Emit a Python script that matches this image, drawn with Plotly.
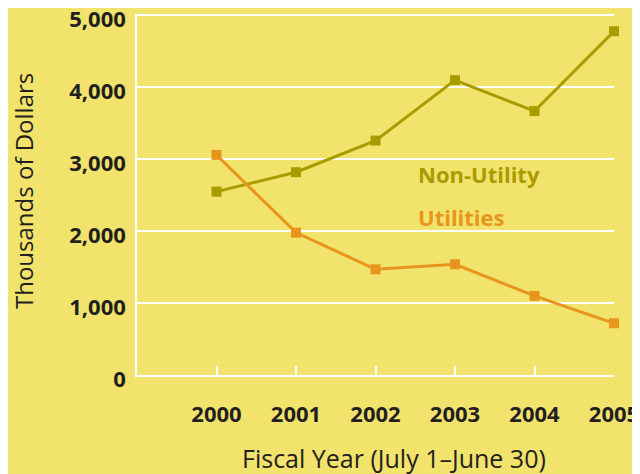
import plotly.graph_objects as go

years = [2000, 2001, 2002, 2003, 2004, 2005]
non_utility = [2550, 2820, 3260, 4100, 3670, 4780]
utilities = [3060, 1980, 1470, 1540, 1100, 720]
y_ticks = [0, 1000, 2000, 3000, 4000, 5000]
y_tick_labels = ["0", "1,000", "2,000", "3,000", "4,000", "5,000"]

BG = "#F1E36B"
OLIVE = "#A99B00"
ORANGE = "#E8951E"
TXT = "#231F20"
FONT = "Open Sans"

fig = go.Figure()
fig.add_trace(go.Scatter(x=years, y=non_utility, mode="lines+markers", name="Non-Utility",
                         line=dict(color=OLIVE, width=3),
                         marker=dict(symbol="square", size=10, color=OLIVE), cliponaxis=False))
fig.add_trace(go.Scatter(x=years, y=utilities, mode="lines+markers", name="Utilities",
                         line=dict(color=ORANGE, width=3),
                         marker=dict(symbol="square", size=10, color=ORANGE), cliponaxis=False))

fig.add_annotation(x=2002.51, y=2800, text="<b>Non-Utility</b>", showarrow=False, xanchor="left",
                   font=dict(family=FONT, size=22, color=OLIVE))
fig.add_annotation(x=2002.51, y=2200, text="<b>Utilities</b>", showarrow=False, xanchor="left",
                   font=dict(family=FONT, size=22, color=ORANGE))

fig.add_annotation(xref="paper", yref="paper", x=-0.238, y=0.511, text="Thousands of Dollars",
                   xanchor="center", yanchor="middle",
                   textangle=-90, showarrow=False, font=dict(family=FONT, size=24, color=TXT))
fig.add_annotation(xref="paper", yref="paper", x=0.539, y=-0.231, text="Fiscal Year (July 1–June 30)",
                   xanchor="center", yanchor="middle",
                   showarrow=False, font=dict(family=FONT, size=25, color=TXT))

# page body has an 8px margin, so the figure is offset by 8px; compensate in margins
fig.update_layout(
    width=640, height=474,
    paper_bgcolor=BG, plot_bgcolor=BG,
    margin=dict(l=129, r=34, t=6, b=107),
    showlegend=False,
    font=dict(family=FONT, color=TXT),
    xaxis=dict(range=[1999, 2005], tickvals=years, ticktext=[f"<b>{y}</b>" for y in years],
               showgrid=False, zeroline=False, showline=True, linecolor="white", linewidth=1.5,
               ticks="inside", ticklen=9, tickcolor="white", tickwidth=1.5, automargin=False,
               ticklabeloverflow="allow",
               tickfont=dict(family=FONT, size=22, color=TXT), ticklabelstandoff=19),
    yaxis=dict(range=[0, 5020], tickvals=y_ticks, ticktext=[f"<b>{t}</b>" for t in y_tick_labels],
               showgrid=True, gridcolor="white", gridwidth=1.5, zeroline=False,
               showline=True, linecolor="white", linewidth=1.5, automargin=False,
               ticklabeloverflow="allow", ticklabelshift=4,
               tickfont=dict(family=FONT, size=22, color=TXT), ticklabelstandoff=5),
)

fig.write_html("out.html")
